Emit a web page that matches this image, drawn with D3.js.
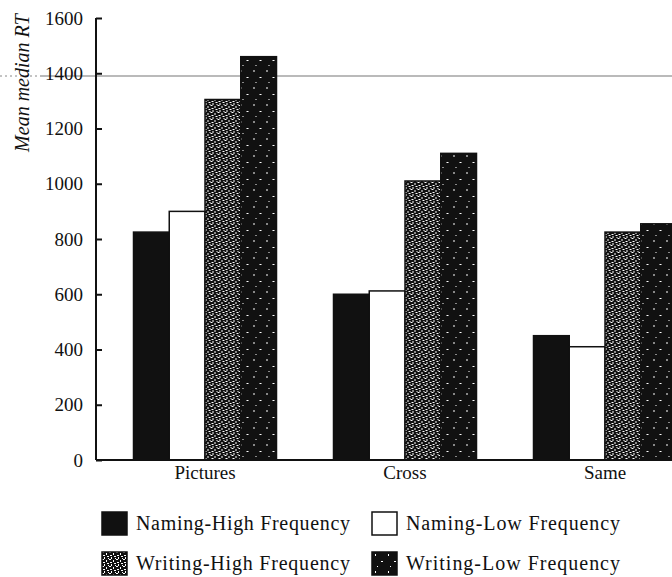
<!DOCTYPE html>
<html>
<head>
<meta charset="utf-8">
<script src="https://cdn.jsdelivr.net/npm/d3@7"></script>
<style>
  body { margin: 0; background: #fff; }
  svg text { font-family: "Liberation Serif", "DejaVu Serif", serif; fill: #111; }
</style>
</head>
<body>
<div id="chart"></div>
<script>
var conditions = ["Pictures", "Cross", "Same"];
var seriesNames = ["Naming-High Frequency", "Naming-Low Frequency", "Writing-High Frequency", "Writing-Low Frequency"];
var namingHigh = [825, 600, 450];
var namingLow = [900, 612, 410];
var writingHigh = [1305, 1010, 825];
var writingLow = [1460, 1110, 855];
var yTicks = [0, 200, 400, 600, 800, 1000, 1200, 1400, 1600];
// the scan has a stray rule running across near this value
var scanRuleValue = 1390;

document.addEventListener("DOMContentLoaded", function(event) {

  var width = 672, height = 577;
  var top = 18, bottom = 460, axisX = 96;

  var svg = d3.select("#chart")
    .append("svg")
    .attr("width", width)
    .attr("height", height);

  var defs = svg.append("defs");

  //dense speckle for writing-high
  var speckA = defs.append("pattern")
    .attr("id", "speckDense")
    .attr("patternUnits", "userSpaceOnUse")
    .attr("width", 7).attr("height", 7);
  speckA.append("rect").attr("width", 7).attr("height", 7).attr("fill", "#111");
  [[0, 0, 2, 1], [4, 1, 1, 2], [1, 3, 2, 1], [5, 4, 2, 1], [2, 5, 1, 2], [6, 6, 1, 1]].forEach(function(r) {
    speckA.append("rect")
      .attr("x", r[0]).attr("y", r[1])
      .attr("width", r[2]).attr("height", r[3])
      .attr("fill", "#fff");
  });

  //sparse speckle for writing-low
  var speckB = defs.append("pattern")
    .attr("id", "speckSparse")
    .attr("patternUnits", "userSpaceOnUse")
    .attr("width", 13).attr("height", 17);
  speckB.append("rect").attr("width", 13).attr("height", 17).attr("fill", "#111");
  [[3, 2, 1, 2], [9, 9, 2, 1], [5, 14, 1, 1]].forEach(function(r) {
    speckB.append("rect")
      .attr("x", r[0]).attr("y", r[1])
      .attr("width", r[2]).attr("height", r[3])
      .attr("fill", "#fff");
  });

  var fills = ["#111", "#fff", "url(#speckDense)", "url(#speckSparse)"];

  var xScale = d3.scaleBand()
    .domain(conditions)
    .range([105, 705])
    .paddingInner(0.285)
    .paddingOuter(0.1425);

  var xSub = d3.scaleBand()
    .domain(seriesNames)
    .range([0, xScale.bandwidth()]);

  var yScale = d3.scaleLinear()
    .domain([0, 1600])
    .range([bottom, top]);

  var rows = conditions.map(function(c, i) {
    return {
      condition: c,
      values: [namingHigh[i], namingLow[i], writingHigh[i], writingLow[i]]
    };
  });

  // stray scan rule
  svg.append("line")
    .attr("x1", 0).attr("x2", 40)
    .attr("y1", yScale(scanRuleValue)).attr("y2", yScale(scanRuleValue))
    .attr("stroke", "#888")
    .attr("stroke-dasharray", "2,3");
  svg.append("line")
    .attr("x1", 40).attr("x2", width)
    .attr("y1", yScale(scanRuleValue)).attr("y2", yScale(scanRuleValue))
    .attr("stroke", "#777")
    .attr("stroke-width", 1.2);

  //Draw the bars
  var groups = svg.selectAll(".group")
    .data(rows)
    .enter().append("g")
    .attr("class", "group")
    .attr("transform", function(d) {
      return "translate(" + xScale(d.condition) + ",0)";
    });

  groups.selectAll("rect")
    .data(function(d) { return d.values; })
    .enter().append("rect")
    .attr("x", function(d, i) { return xSub(seriesNames[i]); })
    .attr("y", function(d) { return yScale(d); })
    .attr("width", xSub.bandwidth())
    .attr("height", function(d) { return bottom - yScale(d); })
    .attr("fill", function(d, i) { return fills[i]; })
    .attr("stroke", "#111")
    .attr("stroke-width", 1.5);

  //Add the Y Axis
  var yAxis = d3.axisRight(yScale)
    .tickValues(yTicks)
    .tickSize(6)
    .tickFormat("");

  var yG = svg.append("g")
    .attr("transform", "translate(" + axisX + ",0)")
    .call(yAxis);
  yG.select(".domain").attr("stroke", "#111").attr("stroke-width", 2)
    .attr("d", "M0," + top + "V" + bottom);
  yG.selectAll(".tick line").attr("stroke", "#111").attr("stroke-width", 2);

  svg.selectAll(".ylabel")
    .data(yTicks)
    .enter().append("text")
    .attr("class", "ylabel")
    .attr("x", 83)
    .attr("y", function(d) { return yScale(d); })
    .attr("dy", "0.35em")
    .style("text-anchor", "end")
    .style("font-size", "19px")
    .text(function(d) { return d; });

  //Add the X Axis
  var xAxis = d3.axisBottom(xScale).tickSize(0).tickPadding(0);
  var xG = svg.append("g")
    .attr("transform", "translate(0," + bottom + ")")
    .call(xAxis);
  xG.select(".domain").attr("stroke", "#111").attr("stroke-width", 2)
    .attr("d", "M" + axisX + ",0H" + width);
  xG.selectAll(".tick text")
    .attr("y", 19)
    .attr("dy", 0)
    .style("font-size", "19px")
    .style("font-family", "Liberation Serif, serif")
    .attr("fill", "#111");

  // y title
  svg.append("text")
    .attr("transform", "translate(29,83) rotate(-90)")
    .style("text-anchor", "middle")
    .style("font-size", "20px")
    .style("font-style", "italic")
    .text("Mean median RT");

  //Legend
  var legendPos = [[102, 512], [372, 512], [102, 552], [372, 552]];
  var legend = svg.selectAll(".legend")
    .data(seriesNames)
    .enter().append("g")
    .attr("class", "legend")
    .attr("transform", function(d, i) {
      return "translate(" + legendPos[i][0] + "," + legendPos[i][1] + ")";
    });

  legend.append("rect")
    .attr("width", 25)
    .attr("height", 23)
    .attr("fill", function(d, i) { return fills[i]; })
    .attr("stroke", "#111")
    .attr("stroke-width", 1.5);

  legend.append("text")
    .attr("x", 34)
    .attr("y", 18)
    .style("font-size", "20px")
    .attr("textLength", 214)
    .text(function(d) { return d; });
});
</script>
</body>
</html>
